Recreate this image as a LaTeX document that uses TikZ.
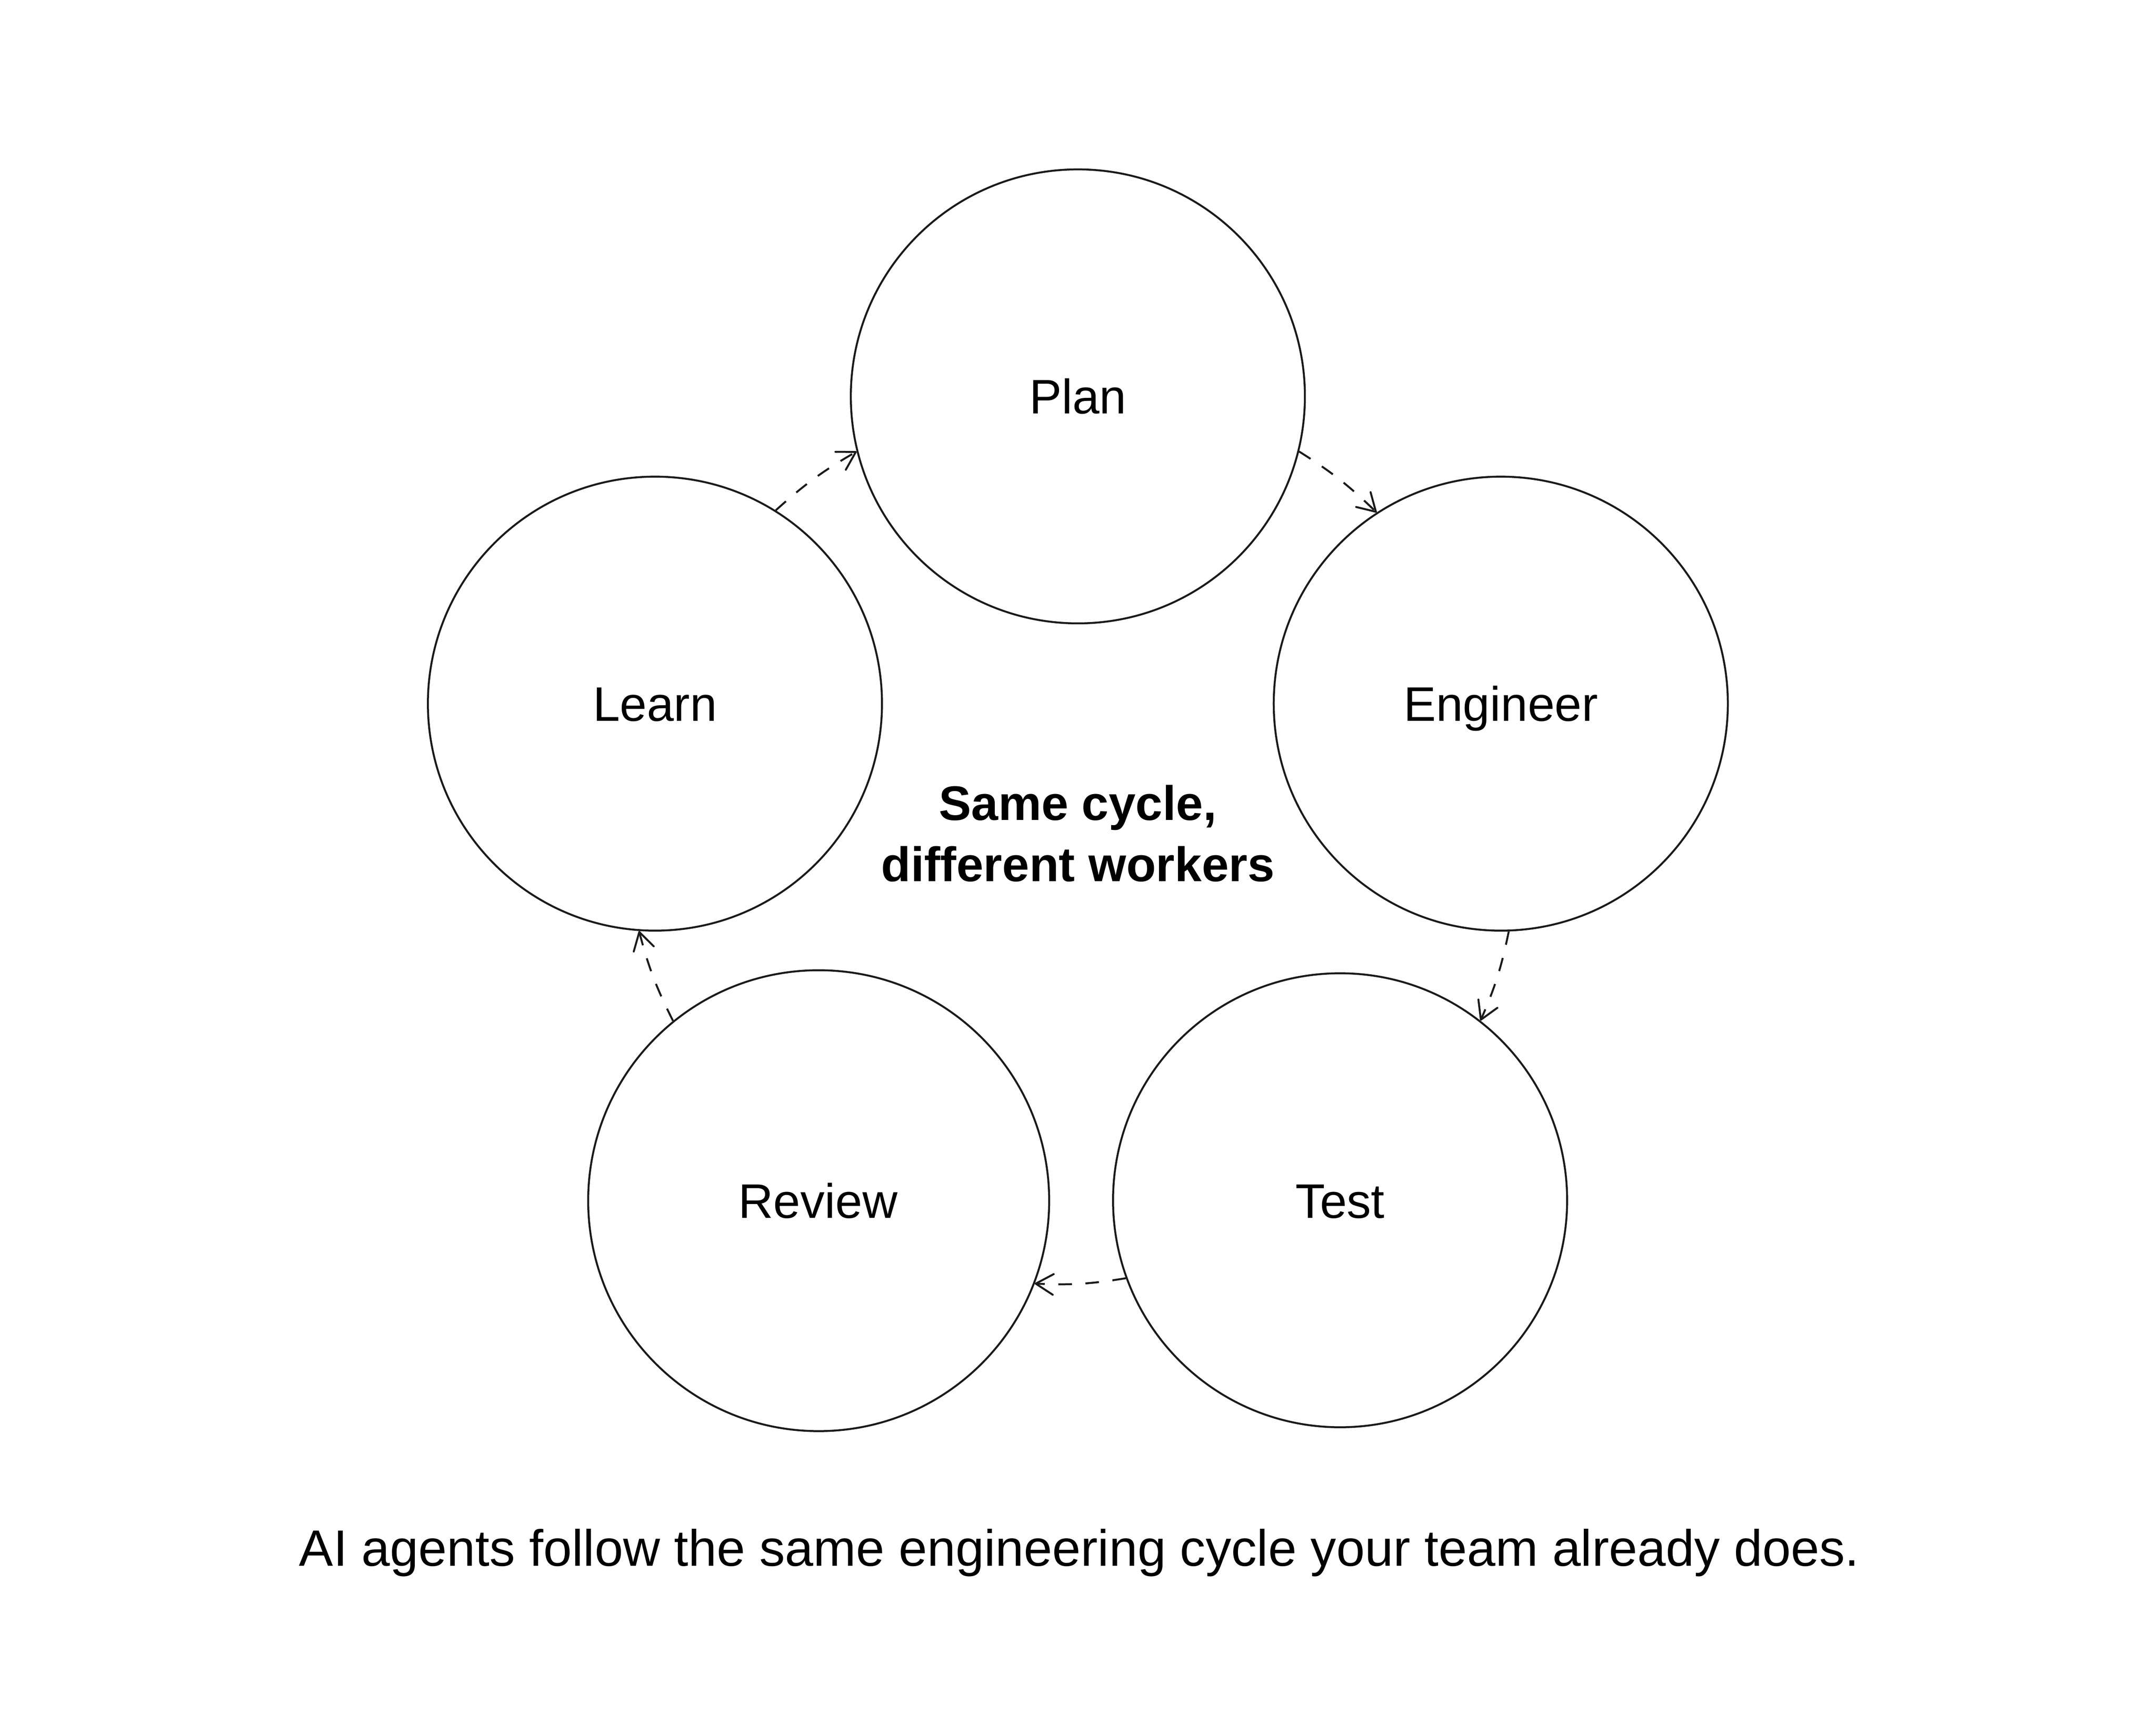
\documentclass[tikz,border=0pt]{standalone}
\usepackage{fontspec}
\setmainfont{Liberation Sans}
\usetikzlibrary{arrows.meta}
\definecolor{ink}{HTML}{1A1A1A}
\begin{document}
\begin{tikzpicture}[x=0.01cm,y=0.01cm,
  stage/.style={circle,draw=ink,line width=0.4pt,minimum size=3.29cm,inner sep=0pt},
  lbl/.style={anchor=base,inner sep=0pt,text=black,font=\fontsize{10pt}{12pt}\selectfont},
  midtxt/.style={anchor=base,inner sep=0pt,text=black,font=\fontsize{10pt}{12pt}\selectfont\bfseries},
  captxt/.style={anchor=base,inner sep=0pt,text=black,font=\fontsize{10.54pt}{12.6pt}\selectfont},
  flow/.style={draw=ink,line width=0.4pt,dash pattern=on 2.8pt off 2.8pt,
    -{Straight Barb[length=0.127cm,width=0.15cm,round]}}]
\useasboundingbox (0,0) rectangle (1563,-1250);
\fill[white] (0,0) rectangle (1563,-1250);
% circles
\node[stage] (plan) at (781.4,-287.4) {};
\node[stage] (engineer) at (1088.0,-510.2) {};
\node[stage] (test) at (971.5,-870.3) {};
\node[stage,minimum size=3.34cm] (review) at (593.5,-870.6) {};
\node[stage] (learn) at (474.8,-510.2) {};
% labels
\node[lbl] (planl) at (781.4,-300) {Plan};
\node[lbl] (engineerl) at (1088.0,-522.8) {Engineer};
\node[lbl] (testl) at (971.5,-883.2) {Test};
\node[lbl] (reviewl) at (593.0,-883.2) {Review};
\node[lbl] (learnl) at (474.8,-522.8) {Learn};
% centre text
\node[midtxt] (mid1) at (781.4,-594.6) {Same cycle,};
\node[midtxt] (mid2) at (781.4,-639) {different workers};
% caption
\node[captxt] (cap) at (782.5,-1135.4) {AI agents follow the same engineering cycle your team already does.};
% connectors
\draw[flow] (learn.58) to[bend left=6] (plan.194);
\draw[flow] (plan.-14.6) to[bend left=6] (engineer.123.4);
\draw[flow] (engineer.-88) to[bend left=6] (test.52.2);
\draw[flow] (test.200.3) to[bend left=6] (review.-21);
\draw[flow] (review.129) to[bend left=6] (learn.-94);
\end{tikzpicture}
\end{document}
